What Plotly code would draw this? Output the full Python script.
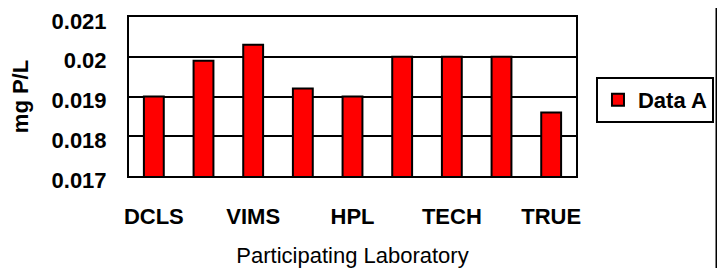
import plotly.graph_objects as go

categories = ["DCLS", "Lab B", "VIMS", "Lab D", "HPL", "Lab F", "TECH", "Lab H", "TRUE"]
values = [0.0190, 0.0199, 0.0203, 0.0192, 0.0190, 0.0200, 0.0200, 0.0200, 0.0186]
shown_ticks = ["DCLS", "VIMS", "HPL", "TECH", "TRUE"]
y_ticks = [0.017, 0.018, 0.019, 0.020, 0.021]
y_ticktext = ["0.017", "0.018", "0.019", "0.02", "0.021"]

FONT = "Liberation Sans, Arial, sans-serif"

fig = go.Figure()
fig.add_trace(go.Bar(
    x=categories, y=values, name="Data A",
    marker=dict(color="#ff0000", line=dict(color="black", width=2)),
    showlegend=True,
))

fig.update_layout(
    width=717, height=260,
    margin=dict(l=121, r=149, t=9, b=92, autoexpand=False),
    paper_bgcolor="white", plot_bgcolor="white",
    font=dict(family=FONT, color="black", size=22),
    bargap=0.6,
    showlegend=True,
    legend=dict(
        x=1.0447, y=0.6226, xanchor="left", yanchor="top",
        bordercolor="black", borderwidth=2,
        font=dict(size=22, family=FONT, weight="bold"),
        itemwidth=30,
    ),
    xaxis=dict(
        automargin=False,
        tickmode="array", tickvals=shown_ticks, ticktext=shown_ticks,
        tickfont=dict(size=22, weight="bold"),
        showline=True, linecolor="black", linewidth=2, mirror=True,
        ticks="outside", ticklen=20, tickcolor="rgba(0,0,0,0)",
        title=dict(text="Participating Laboratory", font=dict(size=22), standoff=23),
    ),
    yaxis=dict(
        automargin=False,
        range=[0.017, 0.0210001], tickvals=y_ticks, ticktext=y_ticktext,
        tickfont=dict(size=22, weight="bold"), ticklabeloverflow="allow",
        ticklabelshift=4,
        showgrid=True, gridcolor="black", gridwidth=2,
        showline=True, linecolor="black", linewidth=2, mirror=True,
        ticks="outside", ticklen=16, tickcolor="rgba(0,0,0,0)",
        title=dict(text="mg P/L", font=dict(size=22, weight="bold"), standoff=20),
    ),
    shapes=[
        dict(type="line", xref="paper", yref="paper",
             x0=(709 - 121) / 447, x1=(709 - 121) / 447, y0=-0.6, y1=1.1,
             line=dict(color="black", width=3)),
    ],
)

fig.write_html("out.html")
